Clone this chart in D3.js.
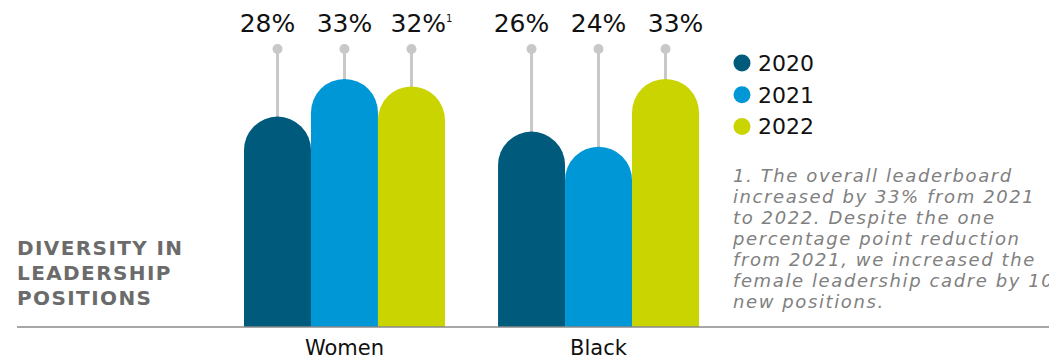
<!DOCTYPE html>
<html>
<head>
<meta charset="utf-8">
<script src="https://cdn.jsdelivr.net/npm/d3@7"></script>
<style>
  body { margin: 0; background: #fff; }
  svg { display: block; font-family: "DejaVu Sans", sans-serif; }
</style>
</head>
<body>
<div id="chart"></div>
<script>
const width = 1049,
      height = 360;

// data
const categories = ["Women", "Black"];
const years = ["2020", "2021", "2022"];
const values = {
  Women: [28, 33, 32],
  Black: [26, 24, 33]
};
const notes = { Women: ["", "", "1"], Black: ["", "", ""] };
const colors = ["#005a7c", "#0097d6", "#c9d400"];
const titleLines = ["DIVERSITY IN", "LEADERSHIP", "POSITIONS"];
const footnoteLines = [
  "1. The overall leaderboard",
  "increased by 33% from 2021",
  "to 2022. Despite the one",
  "percentage point reduction",
  "from 2021, we increased the",
  "female leadership cadre by 10",
  "new positions."
];

const baseY = 327, dotY = 49, labelY = 32;

var svg = d3.select("#chart").append("svg")
  .attr("width", width)
  .attr("height", height);

const x0 = d3.scaleBand()
  .domain(categories)
  .range([244, 699])
  .paddingInner(0.209);

const x1 = d3.scaleBand()
  .domain(years)
  .range([0, x0.bandwidth()]);

const y = d3.scaleLinear()
  .domain([0, 33])
  .range([baseY, baseY - 248]);

const rows = [];
categories.forEach(c => {
  years.forEach((yr, i) => {
    rows.push({ cat: c, year: yr, i: i, value: values[c][i], note: notes[c][i] });
  });
});

const bx = d => x0(d.cat) + x1(d.year);
const bw = x1.bandwidth();

// lollipop stems
svg.append("g").selectAll("line").data(rows)
  .enter().append("line")
  .attr("x1", d => bx(d) + bw / 2)
  .attr("x2", d => bx(d) + bw / 2)
  .attr("y1", dotY)
  .attr("y2", d => y(d.value) + 4)
  .style("stroke", "#c8c8c8")
  .style("stroke-width", 3);

svg.append("g").selectAll("circle").data(rows)
  .enter().append("circle")
  .attr("cx", d => bx(d) + bw / 2)
  .attr("cy", dotY)
  .attr("r", 5)
  .style("fill", "#c8c8c8");

// bars with round tops
function barPath(d) {
  const x = bx(d), r = bw / 2, top = y(d.value);
  return `M${x},${baseY} V${top + r} A${r},${r} 0 0 1 ${x + bw},${top + r} V${baseY} Z`;
}

svg.append("g").selectAll("path").data(rows)
  .enter().append("path")
  .attr("d", barPath)
  .style("fill", d => colors[d.i]);

// value labels, spread a little wider than the bars
const spread = 1.15;
var labels = svg.append("g").selectAll("text").data(rows)
  .enter().append("text")
  .attr("x", d => x0(d.cat) + x0.bandwidth() / 2 + (x1(d.year) + bw / 2 - x0.bandwidth() / 2) * spread)
  .attr("y", labelY)
  .attr("text-anchor", "middle")
  .style("font-size", "25px")
  .style("fill", "#111");
labels.append("tspan").text(d => d.value + "%");
labels.filter(d => d.note).append("tspan")
  .attr("dy", -10)
  .style("font-size", "10px")
  .text(d => d.note);

// baseline
svg.append("line")
  .attr("x1", 17).attr("x2", width)
  .attr("y1", baseY).attr("y2", baseY)
  .style("stroke", "#8a8a8a")
  .style("stroke-width", 1.5);

// category axis labels
svg.append("g").selectAll("text").data(categories)
  .enter().append("text")
  .attr("x", d => x0(d) + x0.bandwidth() / 2)
  .attr("y", 355)
  .attr("text-anchor", "middle")
  .style("font-size", "21px")
  .style("fill", "#111")
  .text(d => d);

// title
svg.append("g").selectAll("text").data(titleLines)
  .enter().append("text")
  .attr("x", 17)
  .attr("y", (d, i) => 255 + i * 25)
  .style("font-size", "20px")
  .style("font-weight", "bold")
  .style("letter-spacing", "1.4px")
  .style("fill", "#6b6b6b")
  .text(d => d);

// legend
var legend = svg.append("g").selectAll("g").data(years)
  .enter().append("g")
  .attr("transform", (d, i) => `translate(742,${63 + i * 31.7})`);
legend.append("circle")
  .attr("r", 8.5)
  .style("fill", (d, i) => colors[i]);
legend.append("text")
  .attr("x", 16)
  .attr("y", 8)
  .style("font-size", "22px")
  .style("fill", "#111")
  .text(d => d);

// footnote
svg.append("g").selectAll("text").data(footnoteLines)
  .enter().append("text")
  .attr("x", 733)
  .attr("y", (d, i) => 182 + i * 21)
  .style("font-size", "18px")
  .style("font-style", "italic")
  .style("letter-spacing", "1.6px")
  .style("fill", "#808080")
  .text(d => d);
</script>
</body>
</html>
